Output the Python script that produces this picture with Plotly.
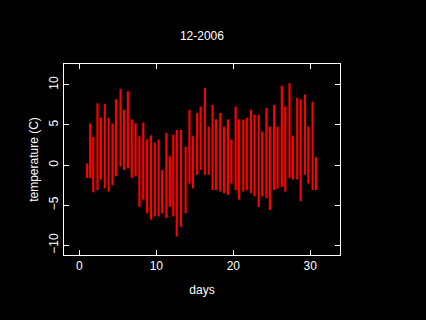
import plotly.graph_objects as go

# Streak (half-day) summaries: time in days, high and low temperature (C)
streak_day = [1.0, 1.4, 1.8, 2.35, 2.8, 3.3, 3.8, 4.3, 4.75, 5.35, 5.8, 6.3, 6.8,
              7.3, 7.8, 8.3, 8.8, 9.3, 9.8, 10.3, 10.75, 11.3, 11.75, 12.2, 12.65,
              13.2, 13.8, 14.3, 14.75, 15.3, 15.75, 16.3, 16.8, 17.3, 17.75,
              18.3, 18.8, 19.3, 19.75, 20.3, 20.75, 21.3, 21.75, 22.3, 22.75,
              23.3, 23.75, 24.3, 24.75, 25.3, 25.75, 26.3, 26.75, 27.3, 27.75,
              28.3, 28.75, 29.3, 29.75, 30.3, 30.75]
streak_high = [0.2, 5.2, 3.5, 7.7, 5.9, 7.6, 5.9, 5.2, 8.2, 9.5, 6.9, 9.2, 5.7,
               5.2, 3.6, 5.3, 3.2, 3.7, 2.8, 3.2, -0.6, 4.0, 1.1, 3.8, 4.4,
               4.4, 2.3, 6.9, 3.6, 6.5, 7.3, 9.6, 4.8, 7.5, 5.7,
               6.5, 4.8, 5.7, 3.2, 7.3, 5.7, 5.7, 5.9, 6.9, 6.3,
               6.3, 4.2, 7.1, 4.8, 7.5, 4.8, 9.9, 7.3, 10.2, 3.6,
               8.4, 8.2, 8.8, 4.8, 7.9, 1.0]
streak_low = [-1.6, -1.6, -3.4, -3.1, -1.8, -2.9, -3.3, -2.5, -1.4, -0.2, -0.6, -0.4, -1.6,
              -1.4, -5.2, -4.3, -6.0, -6.8, -6.4, -6.4, -6.0, -6.6, -5.2, -6.4, -8.9,
              -7.7, -6.0, -2.3, -2.9, -1.2, -0.6, -1.2, -1.2, -3.1, -3.1,
              -3.3, -3.5, -3.7, -2.3, -3.1, -4.3, -3.3, -3.1, -3.5, -3.9,
              -5.2, -3.9, -4.1, -5.6, -3.1, -2.9, -2.7, -3.3, -1.6, -1.8,
              -1.8, -4.5, -1.2, -2.3, -3.1, -3.1]

x_ticks = [0, 10, 20, 30]
y_ticks = [-10, -5, 0, 5, 10]

span = [h - l for h, l in zip(streak_high, streak_low)]

fig = go.Figure(go.Bar(
    x=streak_day, y=span, base=streak_low, width=0.28,
    marker=dict(color="#ff0000", line=dict(width=0)),
    hoverinfo="skip",
))

font = dict(family="Liberation Sans, Arial, sans-serif", size=12, color="white")
axis_common = dict(showline=True, linecolor="white", linewidth=1, mirror="ticks",
                   ticks="inside", ticklen=5, tickcolor="white", tickwidth=1,
                   showgrid=False, zeroline=False, tickfont=font)

fig.update_layout(
    width=426, height=320,
    paper_bgcolor="black", plot_bgcolor="black",
    margin=dict(l=64, r=86, t=64, b=65),
    showlegend=False,
    font=font,
    title=dict(text="12-2006", x=0.474, xanchor="center", y=0.887, yanchor="middle",
               font=font),
    xaxis=dict(range=[-2, 33.86], tickvals=x_ticks, ticktext=[str(v) for v in x_ticks],
               title=dict(text="days", font=font, standoff=13), **axis_common),
    yaxis=dict(range=[-11.2, 12.6], tickvals=y_ticks, tickangle=-90,
               title=dict(text="temperature (C)", font=font, standoff=6), **axis_common),
)

fig.write_html("out.html", config={"displayModeBar": False},
               post_script="document.body.style.margin='0';document.body.style.background='black';")
